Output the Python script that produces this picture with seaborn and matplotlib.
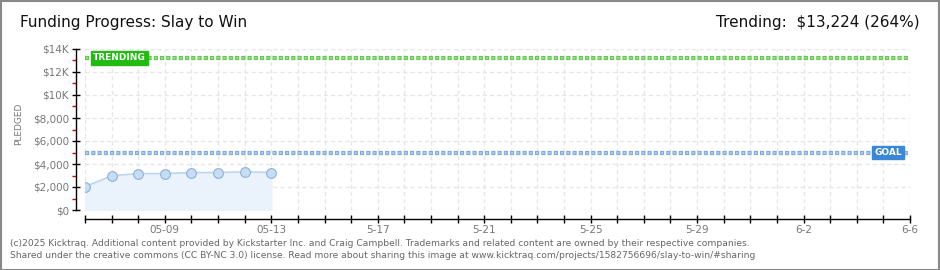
import matplotlib
matplotlib.use("Agg")
import matplotlib.pyplot as plt
import matplotlib.patches as mpatches
import seaborn as sns
import pandas as pd
import numpy as np

# ---- data ----
dates = ["2025-05-06", "2025-05-07", "2025-05-08", "2025-05-09",
         "2025-05-10", "2025-05-11", "2025-05-12", "2025-05-13"]
pledged = [2030, 2970, 3170, 3170, 3260, 3260, 3320, 3260]
goal = 5000
trending = 13224
trending_pct = 264
xtick_dates = ["2025-05-09", "2025-05-13", "2025-05-17", "2025-05-21",
               "2025-05-25", "2025-05-29", "2025-06-02", "2025-06-06"]
xtick_labels = ["05-09", "05-13", "5-17", "5-21", "5-25", "5-29", "6-2", "6-6"]
ytick_values = [0, 2000, 4000, 6000, 8000, 10000, 12000, 14000]
ytick_labels = ["$0", "$2,000", "$4,000", "$6,000", "$8,000", "$10K", "$12K", "$14K"]
start_date, end_date = "2025-05-06", "2025-06-06"

sns.set_theme(style="white")
plt.rcParams['font.family'] = ['DejaVu Sans']
plt.rcParams['lines.scale_dashes'] = False

W, H = 940, 270
fig = plt.figure(figsize=(W / 100, H / 100), dpi=100)
fig.patch.set_facecolor("white")

# outer frame
fig.add_artist(mpatches.Rectangle((0.5 / W, 0.5 / H), 1 - 1.5 / W, 1 - 1.5 / H,
                                  transform=fig.transFigure, fill=False,
                                  edgecolor="#888888", linewidth=1.5))

left, right = 85 / W, 910 / W
bottom, top = (H - 210) / H, (H - 49) / H
ax = fig.add_axes([left, bottom, right - left, top - bottom])
ax.set_facecolor("none")

df = pd.DataFrame({"date": pd.to_datetime(dates), "pledged": pledged})
x0 = pd.Timestamp(start_date)
df["day"] = (df["date"] - x0).dt.days
xmax = (pd.Timestamp(end_date) - x0).days

# grid
for d in range(0, xmax + 1):
    ax.axvline(d, color="#e6e6e6", lw=1, ls=(0, (3, 2.2)), zorder=0)
for v in ytick_values:
    ax.axhline(v, color="#e6e6e6", lw=1, ls=(0, (3, 2.2)), zorder=0)

ax.fill_between(df["day"], df["pledged"], 0, color="#eaf2fc", zorder=1)
sns.lineplot(data=df, x="day", y="pledged", ax=ax, color="#bcd6f2", lw=1.2,
             marker="o", markersize=7, markerfacecolor="#c6ddf6",
             markeredgecolor="#8fb0d6", markeredgewidth=0.8, zorder=3)

# goal and trending lines (square dashes with darker rim)
outer = (0, (3.0, 1.5))
inner = (3.8, (1.5, 3.0))
ax.axhline(trending, color="#5fc94c", lw=3.0, ls=outer, zorder=2)
ax.axhline(trending, color="#93e283", lw=1.5, ls=inner, zorder=2)
ax.axhline(goal, color="#7fa9da", lw=3.0, ls=outer, zorder=2)
ax.axhline(goal, color="#acccf0", lw=1.5, ls=inner, zorder=2)

ax.set_xlim(0, xmax)
ax.set_ylim(0, 14000)

# spines
for s in ["top", "right"]:
    ax.spines[s].set_visible(False)
ax.spines["left"].set_position(("outward", 6.5))
ax.spines["bottom"].set_position(("outward", 6.5))
ax.spines["left"].set_color("black")
ax.spines["bottom"].set_color("black")
ax.spines["left"].set_linewidth(1)
ax.spines["bottom"].set_linewidth(1)
ax.spines["left"].set_bounds(0, 14000)
ax.spines["bottom"].set_bounds(0, xmax)

ax.set_yticks(ytick_values)
ax.set_yticklabels(ytick_labels)
ax.set_yticks(np.arange(1000, 14000, 2000), minor=True)
ax.tick_params(axis="y", which="major", direction="inout", length=6, width=1,
               color="black", labelsize=7.5, labelcolor="#777777", pad=2, left=True)
ax.tick_params(axis="y", which="minor", direction="out", length=3, width=1,
               color="#dd0000", left=True)

tick_days = [(pd.Timestamp(d) - x0).days for d in xtick_dates]
ax.set_xticks(range(0, xmax + 1), minor=True)
ax.set_xticks(tick_days)
ax.set_xticklabels(xtick_labels)
ax.tick_params(axis="x", which="both", direction="inout", length=6, width=1,
               color="black", labelsize=7.5, labelcolor="#777777", pad=1, bottom=True)
ax.set_xlabel("")
ax.set_ylabel("")

# labels on lines
ax.text(0.3, trending, "TRENDING", color="white", fontsize=6.5, fontweight="bold",
        va="center", ha="left", zorder=5,
        bbox=dict(boxstyle="square,pad=0.25", fc="#22bb11", ec="#22bb11"))
ax.text(xmax - 0.3, goal, "GOAL", color="white", fontsize=6.5, fontweight="bold",
        va="center", ha="right", zorder=5,
        bbox=dict(boxstyle="square,pad=0.25", fc="#3a87d6", ec="#3a87d6"))

fig.text(19 / W, 1 - 124 / H, "PLEDGED", rotation=90, fontsize=6.5,
         color="#777777", ha="center", va="center")

fig.text(20 / W, 1 - 22 / H, "Funding Progress: Slay to Win", fontsize=11,
         color="#111111", ha="left", va="center")
fig.text(920 / W, 1 - 22 / H,
         f"Trending:  ${trending:,} ({trending_pct}%)", fontsize=11,
         color="#111111", ha="right", va="center")

fig.text(10 / W, 1 - 243 / H,
         "(c)2025 Kicktraq. Additional content provided by Kickstarter Inc. and Craig Campbell. Trademarks and related content are owned by their respective companies.",
         fontsize=6.6, color="#666666", ha="left", va="center")
fig.text(10 / W, 1 - 256 / H,
         "Shared under the creative commons (CC BY-NC 3.0) license. Read more about sharing this image at www.kicktraq.com/projects/1582756696/slay-to-win/#sharing",
         fontsize=6.6, color="#666666", ha="left", va="center")

fig.savefig("out.png", dpi=100, facecolor="white")
